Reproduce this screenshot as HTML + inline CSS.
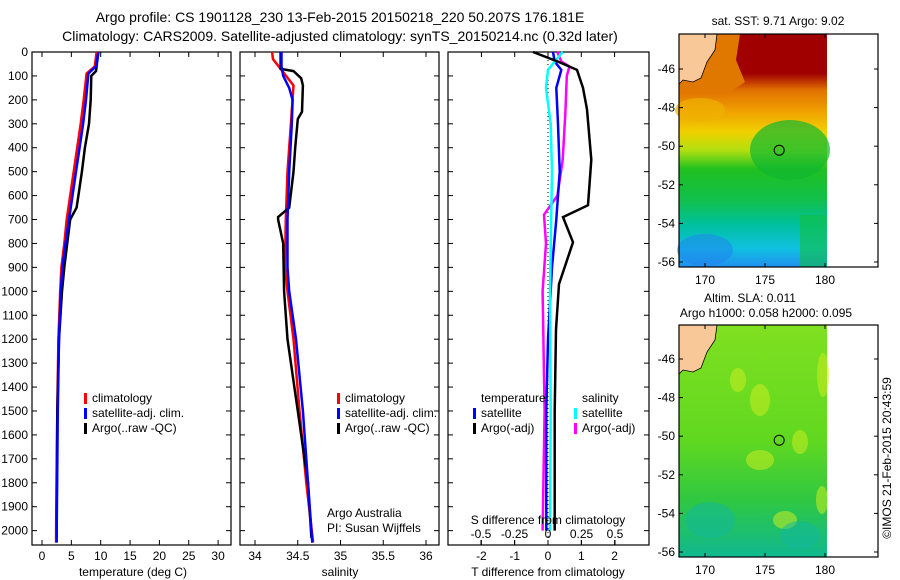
<!DOCTYPE html>
<html><head><meta charset="utf-8"><style>
body{margin:0;background:#fff;}
svg{display:block;font-family:"Liberation Sans",sans-serif;}
</style></head><body>
<svg id="c" width="900" height="580">
<defs>
<linearGradient id="sstg" x1="0" y1="0" x2="0" y2="1">
<stop offset="0" stop-color="#a00000"/><stop offset="0.17" stop-color="#a00000"/>
<stop offset="0.24" stop-color="#e07000"/><stop offset="0.33" stop-color="#f0a000"/>
<stop offset="0.42" stop-color="#f0d000"/><stop offset="0.5" stop-color="#b0e010"/>
<stop offset="0.58" stop-color="#20c020"/><stop offset="0.72" stop-color="#10c050"/>
<stop offset="0.82" stop-color="#00c0a0"/><stop offset="0.92" stop-color="#10c0e0"/>
<stop offset="1" stop-color="#2090f0"/></linearGradient>
<linearGradient id="slag" x1="0" y1="0" x2="0" y2="1">
<stop offset="0" stop-color="#80e020"/><stop offset="0.5" stop-color="#60d820"/>
<stop offset="0.75" stop-color="#30c840"/><stop offset="1" stop-color="#10b890"/></linearGradient>
</defs>
<text x="340" y="22" font-size="14" text-anchor="middle">Argo profile: CS 1901128_230 13-Feb-2015 20150218_220 50.207S 176.181E</text>
<text x="340" y="41" font-size="14" text-anchor="middle">Climatology: CARS2009. Satellite-adjusted climatology: synTS_20150214.nc (0.32d later)</text>
<g id="p1"></g>
<g id="p2"></g>
<g id="p3"></g>
<g id="m1"></g>
<g id="m2"></g>
</svg>
<script>
const NS='http://www.w3.org/2000/svg';
// depth axis
const depthTicks=[0,100,200,300,400,500,600,700,800,900,1000,1100,1200,1300,1400,1500,1600,1700,1800,1900,2000];
// temperature panel data
const tempTicks=[0,5,10,15,20,25,30];
const tClimD=[0,60,90,200,300,400,500,600,700,800,900,1000,1200,1500,2000,2050];
const tClimV=[9.3,9.0,7.6,7.1,6.6,6.0,5.4,4.8,4.2,3.8,3.3,3.1,2.8,2.6,2.4,2.4];
const tSatD=[0,60,90,200,300,400,500,600,700,800,900,1000,1200,1500,2000,2050];
const tSatV=[9.6,9.2,7.9,7.5,7.0,6.4,5.8,5.2,4.6,4.0,3.5,3.2,2.9,2.7,2.5,2.5];
const tArgoD=[0,80,100,200,300,400,500,600,650,700,800,900,1000,1200,1500,1900,2030];
const tArgoV=[9.6,9.2,8.4,8.3,8.0,7.3,6.8,6.2,5.9,4.8,4.3,3.8,3.4,2.9,2.6,2.5,2.5];
// salinity panel data
const salTicks=[34,34.5,35,35.5,36];
const sClimD=[0,30,70,140,300,500,700,900,1000,1200,1500,1800,2050];
const sClimV=[34.2,34.21,34.3,34.45,34.42,34.38,34.36,34.35,34.38,34.45,34.52,34.6,34.68];
const sSatD=[0,60,100,150,200,300,500,700,900,1000,1200,1500,1800,2050];
const sSatV=[34.31,34.31,34.33,34.4,34.44,34.43,34.4,34.38,34.38,34.4,34.48,34.56,34.62,34.67];
const sArgoD=[0,70,80,110,140,250,280,400,500,650,690,700,800,1000,1200,1500,1800,2030];
const sArgoV=[34.3,34.3,34.45,34.54,34.56,34.55,34.5,34.47,34.45,34.4,34.27,34.27,34.33,34.34,34.38,34.5,34.62,34.66];
// difference panel data
const dtTicks=[-2,-1,0,1,2];
const dsTicks=[-0.5,-0.25,0,0.25,0.5];
const dsTickLabels=['-0.5','-0.25','0','0.25','0.5'];
const dTArgoD=[0,40,75,150,240,450,640,690,795,970,1160,1500,2000];
const dTArgoV=[-0.45,0.3,0.87,1.05,1.17,1.3,1.2,0.45,0.75,0.33,0.24,0.2,0.2];
const dTSatD=[0,40,75,150,300,500,700,900,1200,1500,2000];
const dTSatV=[0.15,0.2,0.4,0.25,0.3,0.35,0.25,0.12,0.0,-0.05,-0.05];
const dSSatD=[0,40,75,150,300,500,1000,1500,2000];
const dSSatV=[0.11,0.05,0.0,-0.015,0.02,0.03,0.015,0.02,0.015];
const dSArgoD=[0,40,60,100,250,450,600,680,800,1000,1500,2000];
const dSArgoV=[0.07,0.1,0.16,0.14,0.13,0.11,0.07,-0.03,-0.015,-0.04,-0.025,-0.04];
// map ticks
const latTicks=[-46,-48,-50,-52,-54,-56];
const lonTicks=[170,175,180];

const TOP=52,BOT=545,DMAX=2060;
const yD=d=>TOP+d*(BOT-TOP)/DMAX;
const xT=t=>42+t*5.87;
const xS=s=>255+(s-34)*85.5;
const xDT=t=>548+t*33.3;
const xDS=s=>548+s*134;

function el(tag,attrs,parent,text){const e=document.createElementNS(NS,tag);for(const k in attrs)e.setAttribute(k,attrs[k]);if(text!==undefined)e.textContent=text;parent.appendChild(e);return e;}

function frame(g,x0,x1,xticks,xf,leftLabels){
  const r=el('rect',{x:x0,y:TOP,width:x1-x0,height:BOT-TOP,fill:'none',stroke:'#000','stroke-width':1.2},g);
  
  
  depthTicks.forEach(d=>{
    el('line',{x1:x0,x2:x0+5,y1:yD(d),y2:yD(d),stroke:'#000'},g);
    el('line',{x1:x1-5,x2:x1,y1:yD(d),y2:yD(d),stroke:'#000'},g);
    if(leftLabels){const t=el('text',{x:x0-4,y:yD(d)+4,'font-size':12,'text-anchor':'end'},g,String(d));
      
      }
  });
  if(xticks)xticks.forEach(v=>{
    el('line',{x1:xf(v),x2:xf(v),y1:TOP,y2:TOP+5,stroke:'#000'},g);
    el('line',{x1:xf(v),x2:xf(v),y1:BOT-5,y2:BOT,stroke:'#000'},g);
    const t=el('text',{x:xf(v),y:BOT+15,'font-size':12,'text-anchor':'middle'},g,String(v));
    
    
  });
}
function line(g,D,V,xf,color,name){
  const pts=D.map((d,i)=>xf(V[i]).toFixed(1)+','+yD(d).toFixed(1)).join(' ');
  const p=el('polyline',{points:pts,fill:'none',stroke:color,'stroke-width':2.5},g);
  
  
}
function txt(g,x,y,s,name,anchor,size){const t=el('text',{x:x,y:y,'font-size':size||12,'text-anchor':anchor||'start'},g,s);
  
  return t;}
function legend(g,x,y,color,label){
  el('rect',{x:x,y:y-9,width:3,height:11,fill:color},g);
  txt(g,x+8,y,label,'legend-entry');
}

const p1=document.getElementById('p1');
frame(p1,32,231,tempTicks,xT,true);
line(p1,tClimD,tClimV,xT,'#f00','temp-climatology-line');
line(p1,tArgoD,tArgoV,xT,'#000','temp-argo-line');
line(p1,tSatD,tSatV,xT,'#00f','temp-satellite-line');
legend(p1,84,402,'#f00','climatology');
legend(p1,84,417,'#00f','satellite-adj. clim.');
legend(p1,84,432,'#000','Argo(..raw -QC)');
txt(p1,133,576,'temperature (deg C)','x-axis-title','middle');

const p2=document.getElementById('p2');
frame(p2,240,439,salTicks,xS,false);
line(p2,sClimD,sClimV,xS,'#f00','sal-climatology-line');
line(p2,sArgoD,sArgoV,xS,'#000','sal-argo-line');
line(p2,sSatD,sSatV,xS,'#00f','sal-satellite-line');
legend(p2,337,402,'#f00','climatology');
legend(p2,337,417,'#00f','satellite-adj. clim.');
legend(p2,337,432,'#000','Argo(..raw -QC)');
txt(p2,327,517,'Argo Australia','credit-text');
txt(p2,327,532,'PI: Susan Wijffels','pi-text');
txt(p2,340,576,'salinity','x-axis-title','middle');

const p3=document.getElementById('p3');
frame(p3,448,649,dtTicks,xDT,false);
el('line',{x1:548,x2:548,y1:TOP,y2:BOT,stroke:'#000','stroke-dasharray':'1,3'},p3);
line(p3,dSArgoD,dSArgoV,xDS,'#f0f','sal-diff-argo-line');
line(p3,dTSatD,dTSatV,xDT,'#00f','temp-diff-satellite-line');
line(p3,dSSatD,dSSatV,xDS,'#0ff','sal-diff-satellite-line');
line(p3,dTArgoD,dTArgoV,xDT,'#000','temp-diff-argo-line');
txt(p3,481,402,'temperature','legend-title');
legend(p3,473,417,'#00f','satellite');
legend(p3,473,432,'#000','Argo(-adj)');
txt(p3,582,402,'salinity','legend-title');
legend(p3,574,417,'#0ff','satellite');
legend(p3,574,432,'#f0f','Argo(-adj)');
txt(p3,548,524,'S difference from climatology','s-axis-title','middle');
dsTicks.forEach((v,i)=>{el('line',{x1:xDS(v),x2:xDS(v),y1:540,y2:545,stroke:'#000'},p3);
  txt(p3,xDS(v),538,dsTickLabels[i],'s-tick-label','middle');});
txt(p3,548,576,'T difference from climatology','x-axis-title','middle');

function mapBase(g,y0,y1,grad){
  const f=el('rect',{x:679,y:y0,width:148,height:y1-y0,fill:'url(#'+grad+')'},g);
  
  
}
function mapOverlay(g,y0,y1,lat46,lat56){
  const X0=679,X1=878;
  const yL=l=>lat46+(l+46)*(lat56-lat46)/(-10);
  const xL=l=>705+(l-170)*12;
  const o=lat46-69;
  const land=el('polygon',{points:`${X0},${y0} ${717},${y0} ${715},${50+o} ${707},${62+o} ${701},${78+o} ${693},${82+o} ${683},${80+o} ${X0},${84+o}`,fill:'#f9c898',stroke:'#000','stroke-width':0.8},g);
  
  
  el('rect',{x:X0,y:y0,width:X1-X0,height:y1-y0,fill:'none',stroke:'#000','stroke-width':1.2},g);
  latTicks.forEach(l=>{el('line',{x1:X0,x2:X0+4,y1:yL(l),y2:yL(l),stroke:'#000'},g);
    el('line',{x1:X1-4,x2:X1,y1:yL(l),y2:yL(l),stroke:'#000'},g);
    txt(g,X0-4,yL(l)+4,String(l),'lat-tick-label','end');});
  lonTicks.forEach(l=>{el('line',{x1:xL(l),x2:xL(l),y1:y0,y2:y0+4,stroke:'#000'},g);
    el('line',{x1:xL(l),x2:xL(l),y1:y1-4,y2:y1,stroke:'#000'},g);
    txt(g,xL(l),y1+17,String(l),'lon-tick-label','middle');});
  const c=el('circle',{cx:xL(176.181),cy:yL(-50.207),r:5,fill:'none',stroke:'#000'},g);
  
  
}
const m1=document.getElementById('m1');
mapBase(m1,34,267,'sstg');
el('polygon',{points:'679,34 740,34 736,60 745,82 730,92 679,92',fill:'#e07800'},m1);
el('ellipse',{cx:700,cy:110,rx:25,ry:12,fill:'#f0b000',opacity:0.7},m1);
el('ellipse',{cx:790,cy:150,rx:40,ry:30,fill:'#10b830',opacity:0.7},m1);
el('ellipse',{cx:705,cy:250,rx:28,ry:16,fill:'#2080f0',opacity:0.5},m1);
el('rect',{x:800,y:215,width:27,height:52,fill:'#10c040',opacity:0.6},m1);
mapOverlay(m1,34,267,69,262);
txt(m1,778,25,'sat. SST: 9.71  Argo: 9.02','map1-title','middle');
const m2=document.getElementById('m2');
mapBase(m2,325,557,'slag');
[[760,400,10,16],[823,375,6,22],[800,442,8,12],[785,520,12,9],[822,500,6,14],[738,380,8,12],[760,460,14,10]].forEach(b=>{
  el('ellipse',{cx:b[0],cy:b[1],rx:b[2],ry:b[3],fill:'#c8ec20',opacity:0.55},m2);});
[[710,520,25,18],[800,535,20,14]].forEach(b=>{
  el('ellipse',{cx:b[0],cy:b[1],rx:b[2],ry:b[3],fill:'#10b8a0',opacity:0.5},m2);});
mapOverlay(m2,325,557,359,552);
txt(m2,750,302,'Altim. SLA: 0.011','map2-title-1','middle');
txt(m2,766,317,'Argo h1000: 0.058 h2000: 0.095','map2-title-2','middle');
const cp=txt(m2,0,0,'©IMOS 21-Feb-2015 20:43:59','copyright-text','middle');
cp.setAttribute('transform','translate(891,458) rotate(-90)');
</script>
</body></html>
